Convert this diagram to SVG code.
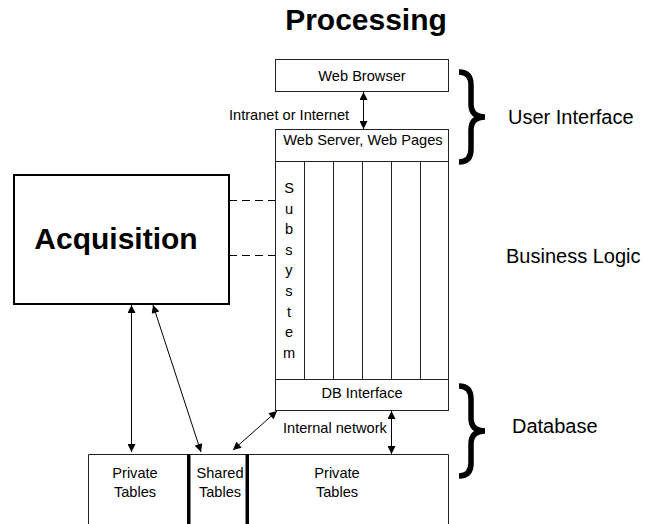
<svg xmlns="http://www.w3.org/2000/svg" width="663" height="524" viewBox="0 0 663 524">
<defs>
<marker id="ah" viewBox="0 0 10 10" refX="10" refY="5" markerWidth="9" markerHeight="8" markerUnits="userSpaceOnUse" orient="auto-start-reverse">
<path d="M0,0 L10,5 L0,10 z" fill="#000"/>
</marker>
<style>
text{font-family:"Liberation Sans",Arial,sans-serif;fill:#000}
.sm{font-size:14.6px}
.lg{font-size:20px}
.box{fill:#fff;stroke:#222;stroke-width:1}
.col{stroke:#222;stroke-width:1}
.con{stroke:#000;stroke-width:1;fill:none;marker-start:url(#ah);marker-end:url(#ah)}
.dash{stroke:#000;stroke-width:1;stroke-dasharray:8,5}
.brace{fill:none;stroke:#000;stroke-width:5.5}
</style>
</defs>
<rect width="663" height="524" fill="#fff"/>
<text x="366" y="30" text-anchor="middle" font-size="30" font-weight="bold">Processing</text>

<g id="web-browser">
<rect class="box" x="275.5" y="59.5" width="173" height="32"/>
<text class="sm" x="362" y="81" text-anchor="middle">Web Browser</text>
</g>

<g id="app-server">
<rect class="box" x="275.5" y="129.5" width="173" height="281"/>
<line class="col" x1="275" y1="161.5" x2="449" y2="161.5"/>
<line class="col" x1="275" y1="379.5" x2="449" y2="379.5"/>
<line class="col" x1="304.5" y1="161" x2="304.5" y2="379"/>
<line class="col" x1="333.5" y1="161" x2="333.5" y2="379"/>
<line class="col" x1="362.5" y1="161" x2="362.5" y2="379"/>
<line class="col" x1="391.5" y1="161" x2="391.5" y2="379"/>
<line class="col" x1="420.5" y1="161" x2="420.5" y2="379"/>
<text class="sm" x="363" y="145" text-anchor="middle">Web Server, Web Pages</text>
<g class="sm" text-anchor="middle">
<text x="289" y="193">S</text>
<text x="289" y="213.6">u</text>
<text x="289" y="234.2">b</text>
<text x="289" y="254.8">s</text>
<text x="289" y="275.4">y</text>
<text x="289" y="296">s</text>
<text x="289" y="316.6">t</text>
<text x="289" y="337.2">e</text>
<text x="289" y="357.8">m</text>
</g>
<text class="sm" x="362" y="398" text-anchor="middle">DB Interface</text>
</g>

<g id="acquisition">
<rect x="14" y="175" width="215" height="129" fill="#fff" stroke="#000" stroke-width="2"/>
<text x="116" y="249" text-anchor="middle" font-size="30" font-weight="bold">Acquisition</text>
</g>

<g id="tables">
<path d="M88.5,524 V454.5 H448.5 V524" fill="#fff" stroke="#222" stroke-width="1"/>
<rect x="187" y="454" width="3.5" height="70" fill="#000"/>
<rect x="245.5" y="454" width="3.5" height="70" fill="#000"/>
<text class="sm" x="135" y="478" text-anchor="middle">Private</text>
<text class="sm" x="135" y="497" text-anchor="middle">Tables</text>
<text class="sm" x="220" y="478" text-anchor="middle">Shared</text>
<text class="sm" x="220" y="497" text-anchor="middle">Tables</text>
<text class="sm" x="337" y="478" text-anchor="middle">Private</text>
<text class="sm" x="337" y="497" text-anchor="middle">Tables</text>
</g>

<g id="layer-labels">
<path class="brace" d="M459,72 Q471,72 471,85 L471,104 Q471,117 485,117 Q471,117 471,130 L471,149 Q471,162 459,162"/>
<text class="lg" x="508" y="124">User Interface</text>
<text class="lg" x="506" y="263">Business Logic</text>
<path class="brace" d="M459,386 Q471,386 471,399 L471,418 Q471,431 485,431 Q471,431 471,444 L471,463 Q471,476 459,476"/>
<text class="lg" x="512" y="433">Database</text>
</g>

<g id="connectors">
<line class="con" x1="363.5" y1="92" x2="363.5" y2="129"/>
<text class="sm" x="229" y="120">Intranet or  Internet</text>
<line class="dash" x1="229" y1="200.5" x2="275" y2="200.5"/>
<line class="dash" x1="229" y1="255.5" x2="275" y2="255.5"/>
<line class="con" x1="131.5" y1="305" x2="131.5" y2="452"/>
<line class="con" x1="153" y1="305" x2="201" y2="452"/>
<line class="con" x1="277" y1="411" x2="233" y2="450"/>
<line class="con" x1="391.5" y1="411" x2="391.5" y2="454"/>
<text class="sm" x="283" y="433">Internal network</text>
</g>
</svg>
